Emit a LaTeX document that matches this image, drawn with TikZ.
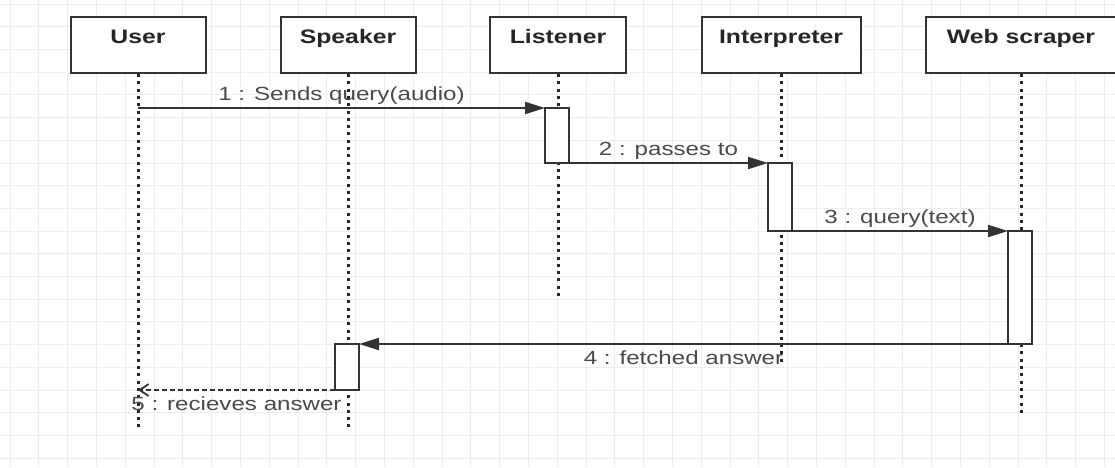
\documentclass[tikz,border=0pt]{standalone}
\usepackage{fontspec}
\setmainfont{Liberation Sans}[FakeStretch=1.27]
\usetikzlibrary{arrows.meta,positioning}
\definecolor{gridgray}{HTML}{EDEDED}
\definecolor{boxline}{HTML}{333333}
\definecolor{msgtext}{HTML}{4A4A4A}
\begin{document}
\begin{tikzpicture}[x=1pt,y=-1pt,font=\fontsize{19}{22}\selectfont,
  actor/.style={draw=boxline,line width=2pt,fill=white,anchor=north,inner sep=0pt,
    text height=26pt,text depth=30pt,font=\fontsize{19.5}{22}\selectfont\bfseries,text=black!85},
  act/.style={draw=boxline,line width=2pt,fill=white,anchor=north,minimum width=24pt,
    inner sep=0pt,outer sep=0pt},
  life/.style={draw=black!85,line width=3pt,dash pattern=on 3pt off 4.3pt},
  msg/.style={draw=boxline,line width=2pt,-{Triangle[length=20pt,width=12pt]}},
  reply/.style={draw=boxline,line width=1.8pt,dash pattern=on 5pt off 3pt,-{Straight Barb[length=9pt,width=12pt,line width=1.8pt]}},
  msglabel/.style={text=msgtext,inner sep=2pt}]
\useasboundingbox[fill=white] (0,0) rectangle (1115,467);
% faint drawing grid
\foreach \gx in {10,38.8,...,1115} \draw[gridgray,line width=0.8pt] (\gx,0) -- (\gx,467);
\foreach \gy in {4,26.7,...,467} \draw[gridgray,line width=0.8pt] (0,\gy) -- (1115,\gy);
% actors
\node[actor,minimum width=135pt] (user) at (138,16) {User};
\node[actor,minimum width=135pt] (speaker) at (348,16) {Speaker};
\node[actor,minimum width=136pt] (listener) at (558,16) {Listener};
\node[actor,minimum width=159pt] (interp) at (781,16) {Interpreter};
\node[actor,minimum width=190pt] (scraper) at (1021,16) {Web scraper};
% lifelines
\coordinate (userEnd) at (138,430);
\coordinate (speakerEnd) at (348,430);
\coordinate (listenerEnd) at (558,297);
\coordinate (interpEnd) at (781,365);
\coordinate (scraperEnd) at (1021,415);
\path[life] (user) -- (userEnd);
\path[life] (speaker) -- (speakerEnd);
\path[life] (listener) -- (listenerEnd);
\path[life] (interp) -- (interpEnd);
\path[life] (scraper) -- (scraperEnd);
% activations
\node[act,minimum height=55pt] (listenerA) at (557,108) {};
\node[act,minimum height=68pt] (interpA) at (780,163) {};
\node[act,minimum height=113pt] (scraperA) at (1020,231) {};
\node[act,minimum height=46pt] (speakerA) at (347,344) {};
% messages
\coordinate (m1) at (138,108);
\coordinate (m5) at (138,390);
\path[msg] (m1) -- node[msglabel,above=1pt] {1 : Sends query(audio)} (listenerA.north west);
\path[msg] (listenerA.south east) -- node[msglabel,above=1pt] {2 : passes to} (interpA.north west);
\path[msg] (interpA.south east) -- node[msglabel,above=1pt] {3 : query(text)} (scraperA.north west);
\path[msg] (scraperA.south west) -- node[msglabel,below=4pt] {4 : fetched answer} (speakerA.north east);
\path[reply] (speakerA.south west) -- node[msglabel,below=4pt] {5 : recieves answer} (m5);
\end{tikzpicture}
\end{document}
